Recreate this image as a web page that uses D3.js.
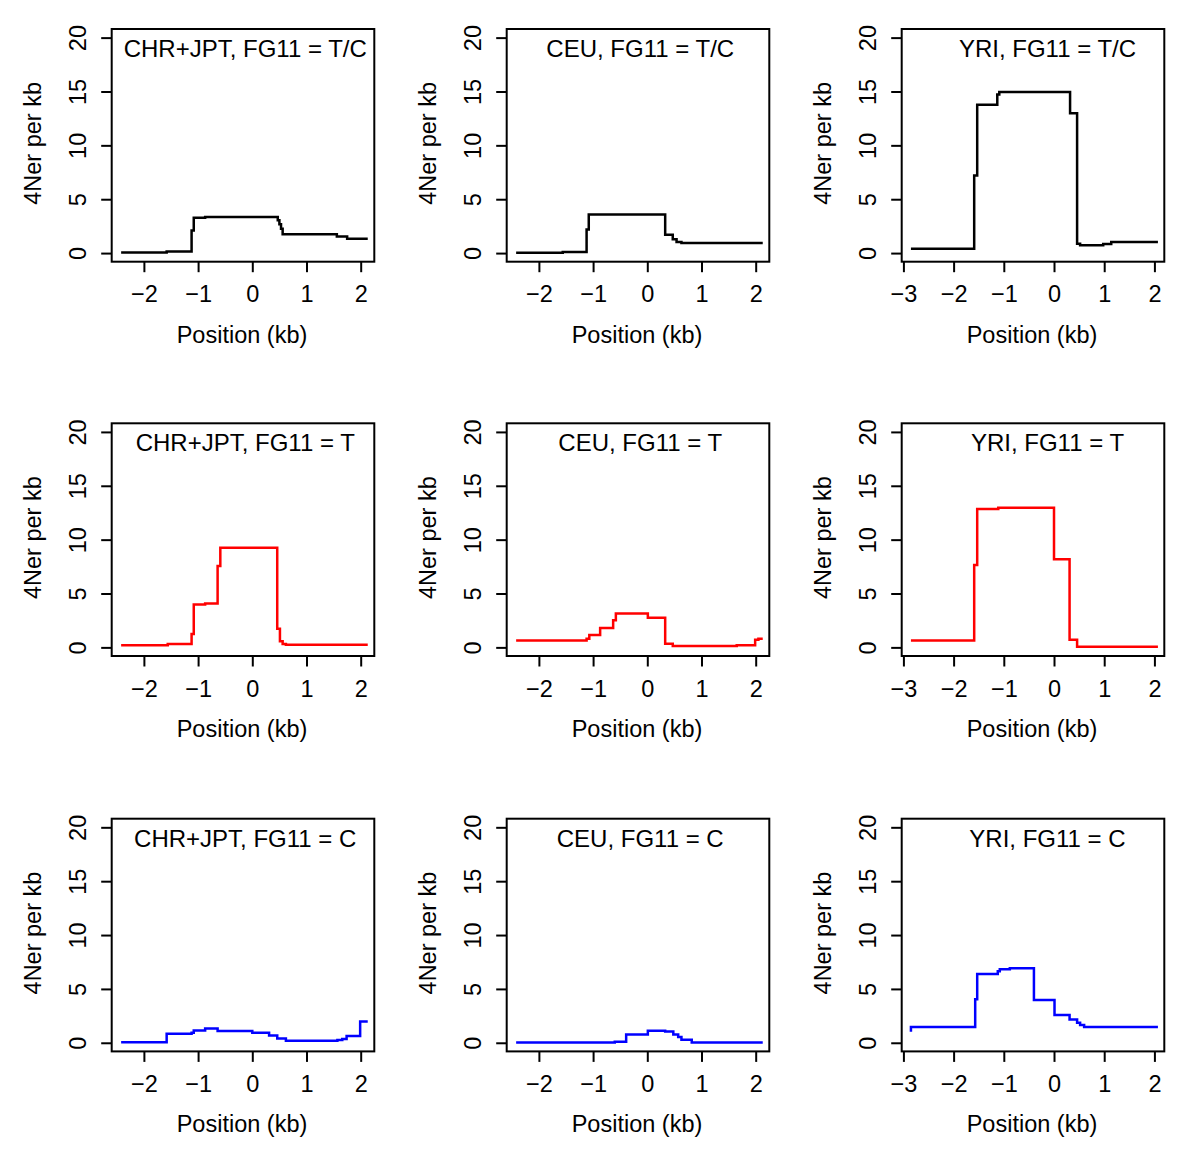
<!DOCTYPE html>
<html><head><meta charset="utf-8">
<script src="https://cdn.jsdelivr.net/npm/d3@7"></script>
<style>
body{margin:0;background:#fff}
text{font-family:"Liberation Sans",Arial,Helvetica,sans-serif;fill:#000}
</style>
</head><body>
<svg id="chart" width="1200" height="1158"></svg>
<script>
// ---------- data ----------
const populations = ["CHR+JPT", "CEU", "YRI"];
const genotypes = ["T/C", "T", "C"];
const lineColors = ["#000000", "#ff0000", "#0000ff"];
const yTicks = [0, 5, 10, 15, 20];
const xTicksAsiaEurope = [-2, -1, 0, 1, 2];
const xTicksYRI = [-3, -2, -1, 0, 1, 2];
const xLabel = "Position (kb)";
const yLabel = "4Ner per kb";

// step functions: position (kb) where each value starts, last point closes the line
const chrTC_pos = [-2.42, -1.58, -1.12, -1.08, -0.87, 0.47, 0.50, 0.53, 0.56, 1.56, 1.75, 2.13];
const chrTC_val = [0.06, 0.15, 2.10, 3.27, 3.36, 3.05, 2.67, 2.27, 1.74, 1.55, 1.34, 1.34];
const ceuTC_pos = [-2.42, -1.56, -1.12, -1.08, 0.33, 0.47, 0.54, 0.63, 2.13];
const ceuTC_val = [0.03, 0.09, 2.18, 3.58, 1.71, 1.28, 1.03, 0.93, 0.93];
const yriTC_pos = [-2.85, -1.59, -1.53, -1.13, -1.09, 0.32, 0.46, 0.52, 0.98, 1.14, 2.07];
const yriTC_val = [0.40, 7.19, 13.78, 14.71, 14.96, 12.97, 0.87, 0.72, 0.84, 1.03, 1.03];

const chrT_pos = [-2.42, -1.56, -1.12, -1.08, -0.87, -0.64, -0.59, 0.46, 0.51, 0.56, 0.62, 2.13];
const chrT_val = [0.19, 0.31, 1.24, 3.98, 4.07, 7.56, 9.24, 1.74, 0.56, 0.31, 0.25, 0.25];
const ceuT_pos = [-2.42, -1.12, -1.07, -0.87, -0.63, -0.58, 0.01, 0.33, 0.47, 1.65, 1.99, 2.05, 2.13];
const ceuT_val = [0.65, 0.81, 1.15, 1.80, 2.52, 3.14, 2.74, 0.34, 0.12, 0.19, 0.72, 0.81, 0.81];
const yriT_pos = [-2.85, -1.59, -1.53, -1.11, 0.00, 0.31, 0.46, 2.07];
const yriT_val = [0.65, 7.65, 12.85, 12.97, 8.18, 0.72, 0.06, 0.06];

const chrC_pos = [-2.42, -1.58, -1.12, -1.08, -0.87, -0.64, 0.00, 0.31, 0.46, 0.62, 1.57, 1.66, 1.74, 1.99, 2.13];
const chrC_val = [0.06, 0.84, 0.93, 1.15, 1.33, 1.09, 0.93, 0.68, 0.40, 0.19, 0.25, 0.34, 0.62, 1.98, 1.98];
const ceuC_pos = [-2.42, -0.60, -0.39, 0.01, 0.33, 0.48, 0.57, 0.63, 0.82, 2.13];
const ceuC_val = [0.03, 0.09, 0.78, 1.12, 1.05, 0.78, 0.53, 0.28, 0.03, 0.03];
const yriC_pos = [-2.85, -2.85, -1.57, -1.53, -1.12, -1.08, -0.88, -0.40, 0.01, 0.31, 0.46, 0.52, 0.60, 2.07];
const yriC_val = [1.02, 1.46, 4.03, 6.39, 6.64, 6.82, 6.91, 3.97, 2.57, 2.17, 1.86, 1.64, 1.46, 1.46];

const seriesGrid = [
  [[chrTC_pos, chrTC_val], [ceuTC_pos, ceuTC_val], [yriTC_pos, yriTC_val]],
  [[chrT_pos, chrT_val], [ceuT_pos, ceuT_val], [yriT_pos, yriT_val]],
  [[chrC_pos, chrC_val], [ceuC_pos, ceuC_val], [yriC_pos, yriC_val]]
];

// ---------- layout ----------
const colLeft = [111.7, 506.7, 901.7];
const rowTop = [29, 423.3, 818.7];
const PW = 262.6, PH = 232.7;
const xDomains = [[-2.594, 2.251], [-2.594, 2.251], [-3.034, 2.197]];
const yDomain = [-0.8, 20.8];
const FS = 23.5;
const FS_TITLE = 24;

const svg = d3.select("#chart");
svg.append("rect").attr("width", 1200).attr("height", 1158).attr("fill", "#fff");

for (let r = 0; r < 3; r++) {
  for (let c = 0; c < 3; c++) {
    const L = colLeft[c], T = rowTop[r];
    const x = d3.scaleLinear().domain(xDomains[c]).range([L, L + PW]);
    const y = d3.scaleLinear().domain(yDomain).range([T + PH, T]);
    const g = svg.append("g");
    const [pos, val] = seriesGrid[r][c];
    const pts = pos.map((p, i) => [p, val[i]]);

    // data line
    g.append("path")
      .datum(pts)
      .attr("fill", "none")
      .attr("stroke", lineColors[r])
      .attr("stroke-width", 2.5)
      .attr("stroke-linejoin", "miter")
      .attr("d", d3.line().x(d => x(d[0])).y(d => y(d[1])).curve(d3.curveStepAfter));

    // box
    g.append("rect")
      .attr("x", L).attr("y", T).attr("width", PW).attr("height", PH)
      .attr("fill", "none").attr("stroke", "#000").attr("stroke-width", 2);

    // x axis
    const xa = g.append("g").attr("transform", `translate(0,${T + PH})`)
      .call(d3.axisBottom(x).tickValues(c === 2 ? xTicksYRI : xTicksAsiaEurope)
        .tickSize(10.5).tickSizeOuter(0).tickFormat(d3.format("d")));
    xa.select(".domain").remove();
    xa.selectAll(".tick line").attr("stroke", "#000").attr("stroke-width", 2);
    xa.selectAll(".tick text").attr("y", 40.5).attr("dy", 0)
      .attr("font-size", FS).attr("fill", "#000")
      .style("font-family", '"Liberation Sans", Arial, Helvetica, sans-serif');

    // y axis
    const ya = g.append("g").attr("transform", `translate(${L},0)`)
      .call(d3.axisLeft(y).tickValues(yTicks).tickSize(10.5).tickSizeOuter(0)
        .tickFormat(d3.format("d")));
    ya.select(".domain").remove();
    ya.selectAll(".tick line").attr("stroke", "#000").attr("stroke-width", 2);
    ya.selectAll(".tick text")
      .attr("x", 0).attr("y", 0).attr("dy", 0)
      .attr("text-anchor", "middle")
      .attr("transform", "translate(-26,0) rotate(-90)")
      .attr("font-size", FS).attr("fill", "#000")
      .style("font-family", '"Liberation Sans", Arial, Helvetica, sans-serif');

    // axis titles
    g.append("text").attr("x", L + PW / 2 - 1).attr("y", T + PH + 81)
      .attr("text-anchor", "middle").attr("font-size", FS).text(xLabel);
    g.append("text")
      .attr("transform", `translate(${L - 71},${T + PH / 2 - 2}) rotate(-90)`)
      .attr("text-anchor", "middle").attr("font-size", FS).text(yLabel);

    // panel title
    g.append("text").attr("x", x(-0.13)).attr("y", T + 28)
      .attr("text-anchor", "middle").attr("font-size", FS_TITLE)
      .text(`${populations[c]}, FG11 = ${genotypes[r]}`);
  }
}
</script>
</body></html>
